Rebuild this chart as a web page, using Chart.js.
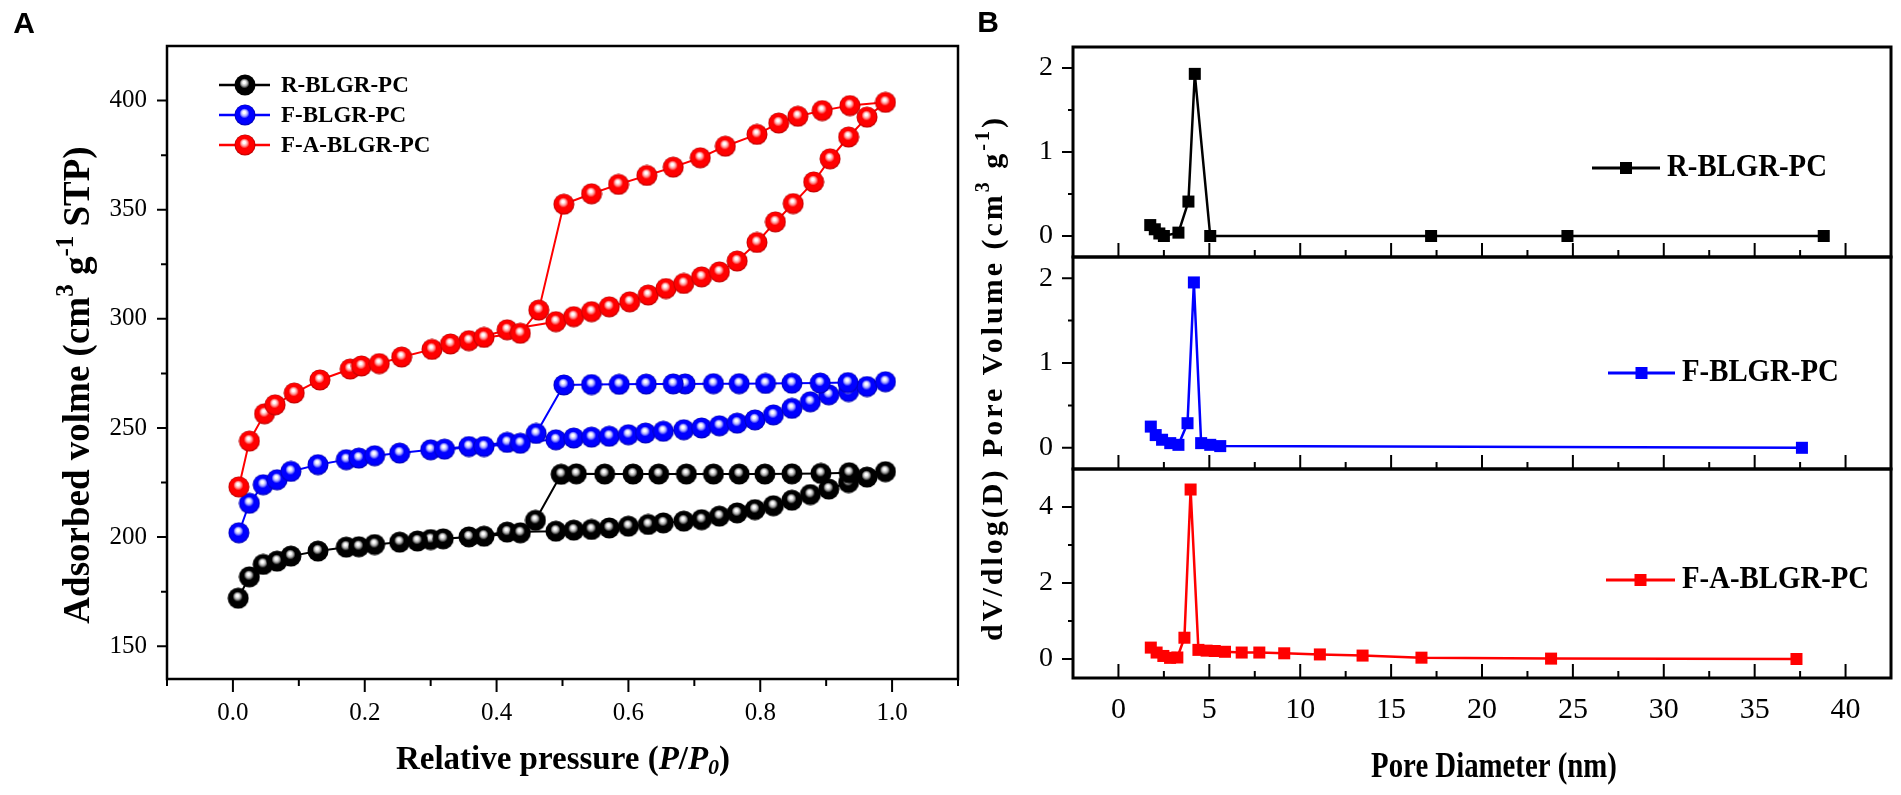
<!DOCTYPE html>
<html>
<head>
<meta charset="utf-8">
<script src="https://cdn.jsdelivr.net/npm/chart.js@4.4.1/dist/chart.umd.min.js"></script>
<style>
  html, body { margin: 0; padding: 0; background: #fff; }
  #wrap { position: relative; width: 1901px; height: 795px; }
  canvas { position: absolute; left: 0; top: 0; }
</style>
</head>
<body>
<div id="wrap">
  <canvas id="chartA" width="1901" height="795"></canvas>
  <canvas id="chartB1" width="1901" height="795"></canvas>
  <canvas id="chartB2" width="1901" height="795"></canvas>
  <canvas id="chartB3" width="1901" height="795"></canvas>
</div>
<script>
const seriesNames = ['R-BLGR-PC', 'F-BLGR-PC', 'F-A-BLGR-PC'];

// panel A: N2 isotherms (adsorption branch, then desorption branch)
const pressR = [0.008, 0.025, 0.046, 0.067, 0.088, 0.129, 0.172, 0.191, 0.215, 0.253, 0.30, 0.358, 0.416, 0.49, 0.517, 0.544, 0.571, 0.60, 0.63, 0.653, 0.684, 0.711, 0.738, 0.765, 0.792, 0.82, 0.848, 0.876, 0.904, 0.934, 0.962, 0.99,
  0.935, 0.892, 0.848, 0.807, 0.768, 0.729, 0.688, 0.646, 0.607, 0.564, 0.521, 0.498, 0.459, 0.436, 0.381, 0.319, 0.28];
const volR = [172, 181.8, 187.5, 189, 191.3, 193.6, 195.4, 195.6, 196.6, 197.7, 198.9, 200.1, 202.3, 202.7, 203.2, 203.5, 204.2, 205, 205.8, 206.5, 207.3, 208, 209.6, 211.1, 212.6, 214.4, 216.9, 219.5, 222, 225, 227.5, 230,
  229.5, 229.2, 229, 228.9, 228.9, 228.9, 228.9, 228.9, 228.9, 228.9, 229, 228.8, 207.7, 202, 200.4, 199.2, 198.2];

const pressF = [0.009, 0.025, 0.046, 0.067, 0.088, 0.129, 0.172, 0.191, 0.215, 0.253, 0.30, 0.358, 0.416, 0.49, 0.517, 0.544, 0.571, 0.60, 0.626, 0.653, 0.684, 0.711, 0.738, 0.765, 0.792, 0.82, 0.848, 0.876, 0.904, 0.934, 0.962, 0.99,
  0.933, 0.891, 0.848, 0.808, 0.768, 0.729, 0.686, 0.668, 0.627, 0.586, 0.544, 0.502, 0.46, 0.436, 0.381, 0.321];
const volF = [202, 215.5, 224, 226.3, 230.1, 233.2, 235.5, 236.2, 237.3, 238.5, 240, 241.5, 243.4, 244.6, 245.4, 245.8, 246.2, 246.9, 247.7, 248.5, 249.2, 250, 251, 252.2, 253.7, 256, 259, 262, 265.2, 266.7, 269, 271.2,
  270.8, 270.6, 270.5, 270.4, 270.3, 270.3, 270.2, 270.2, 270.1, 270, 269.9, 269.7, 247.5, 243, 241.5, 240.3];

const pressFA = [0.009, 0.025, 0.048, 0.064, 0.093, 0.132, 0.178, 0.195, 0.222, 0.256, 0.302, 0.358, 0.416, 0.49, 0.517, 0.544, 0.571, 0.602, 0.63, 0.657, 0.684, 0.711, 0.738, 0.765, 0.795, 0.823, 0.85, 0.881, 0.906, 0.934, 0.962, 0.99,
  0.936, 0.894, 0.857, 0.828, 0.795, 0.747, 0.709, 0.668, 0.628, 0.585, 0.544, 0.502, 0.464, 0.436, 0.381, 0.33];
const volFA = [223, 244, 256.5, 260.6, 266, 272, 277, 278.4, 279.5, 282.5, 286, 290, 295, 298.7, 301, 303.3, 305.5, 307.8, 310.9, 313.9, 316.2, 319.2, 321.5, 326.5, 335, 344.4, 352.8, 362.7, 373.3, 383.3, 392.4, 399.2,
  397.7, 395.4, 392.8, 389.7, 384.5, 379.1, 373.8, 369.5, 365.7, 361.6, 357.3, 352.5, 304, 293.4, 291.5, 288.5];

// panel B: pore size distributions
const diamR = [1.75, 2.0, 2.25, 2.5, 3.3, 3.85, 4.2, 5.05, 17.2, 24.7, 38.8];
const poreR = [0.13, 0.08, 0.03, 0.0, 0.04, 0.41, 1.93, 0.0, 0.0, 0.0, 0.0];
const diamF = [1.78, 2.05, 2.4, 2.85, 3.3, 3.8, 4.15, 4.55, 5.05, 5.6, 37.6];
const poreF = [0.25, 0.15, 0.095, 0.055, 0.035, 0.29, 1.95, 0.055, 0.035, 0.02, 0.0];
const diamFA = [1.78, 2.1, 2.47, 2.84, 3.24, 3.63, 3.97, 4.4, 4.85, 5.3, 5.86, 6.78, 7.75, 9.12, 11.08, 13.43, 16.67, 23.8, 37.3];
const poreFA = [0.3, 0.17, 0.08, 0.03, 0.04, 0.56, 4.46, 0.24, 0.22, 0.21, 0.19, 0.17, 0.17, 0.15, 0.12, 0.09, 0.035, 0.01, 0.0];

// ticks
const aXTicks = [0, 0.2, 0.4, 0.6, 0.8, 1.0];
const aXMinor = [-0.1, 0.1, 0.3, 0.5, 0.7, 0.9, 1.1];
const aYTicks = [150, 200, 250, 300, 350, 400];
const aYMinor = [175, 225, 275, 325, 375];
const bXTicks = [0, 5, 10, 15, 20, 25, 30, 35, 40];
const bXMinor = [2.5, 7.5, 12.5, 17.5, 22.5, 27.5, 32.5, 37.5];
const bYTicks = [0, 1, 2];
const bYMinor = [0.5, 1.5];
const b3YTicks = [0, 2, 4];
const b3YMinor = [1, 3];

const SERIF = '"Liberation Serif", "Times New Roman", serif';
const SANS = '"Liberation Sans", Arial, sans-serif';
Chart.defaults.font.family = SERIF;
Chart.defaults.color = '#000';

function pts(xs, ys) {
  return xs.map((x, i) => ({ x: x, y: ys[i] }));
}

// shaded ball used as marker in panel A
function makeBall(base, ring, edge) {
  const c = document.createElement('canvas');
  c.width = c.height = 22;
  const g = c.getContext('2d');
  const grad = g.createRadialGradient(10, 8, 0, 11, 11, 10.5);
  grad.addColorStop(0, '#ffffff');
  grad.addColorStop(0.12, '#ffffff');
  grad.addColorStop(0.3, ring);
  grad.addColorStop(0.48, base);
  grad.addColorStop(0.85, base);
  grad.addColorStop(1, edge);
  g.fillStyle = grad;
  g.beginPath();
  g.arc(11, 11, 10.5, 0, Math.PI * 2);
  g.fill();
  return c;
}

// text made of runs (for superscripts / italics)
function drawRuns(ctx, runs, x, y, o) {
  o = o || {};
  ctx.save();
  ctx.translate(x, y);
  if (o.angle) ctx.rotate(o.angle);
  ctx.scale(o.sx || 1, 1);
  ctx.fillStyle = '#000';
  ctx.textBaseline = 'middle';
  ctx.textAlign = 'left';
  if ('letterSpacing' in ctx) ctx.letterSpacing = (o.spacing || 0) + 'px';
  let w = 0;
  runs.forEach(r => { ctx.font = r.f; w += ctx.measureText(r.t).width; });
  let cx = o.align === 'left' ? 0 : -w / 2;
  runs.forEach(r => {
    ctx.font = r.f;
    ctx.fillText(r.t, cx, r.dy || 0);
    cx += ctx.measureText(r.t).width;
  });
  ctx.restore();
}

function linearAxis(min, max, ticks, fit, tickOpts) {
  return {
    type: 'linear', min: min, max: max,
    afterBuildTicks: s => { s.ticks = ticks.map(v => ({ value: v })); },
    afterFit: fit,
    grid: { display: false, drawTicks: false },
    border: { display: false },
    ticks: Object.assign({ color: '#000', autoSkip: false, maxRotation: 0 }, tickOpts)
  };
}

// frame box + major/minor tick marks
function frameTicks(o) {
  return {
    id: 'frameTicks',
    afterDraw(chart) {
      const ctx = chart.ctx, a = chart.chartArea;
      const sx = chart.scales.x, sy = chart.scales.y;
      ctx.save();
      ctx.strokeStyle = '#000';
      ctx.lineWidth = o.frame;
      ctx.strokeRect(a.left, a.top, a.right - a.left, a.bottom - a.top);
      ctx.lineWidth = 2;
      ctx.beginPath();
      const xd = o.xIn ? -1 : 1;
      [[o.xMajor, o.xLen[0]], [o.xMinor, o.xLen[1]]].forEach(([vals, len]) => vals.forEach(v => {
        const p = sx.getPixelForValue(v);
        ctx.moveTo(p, a.bottom);
        ctx.lineTo(p, a.bottom + xd * len);
      }));
      [[o.yMajor, o.yLen[0]], [o.yMinor, o.yLen[1]]].forEach(([vals, len]) => vals.forEach(v => {
        const p = sy.getPixelForValue(v);
        ctx.moveTo(a.left, p);
        ctx.lineTo(a.left - len, p);
      }));
      ctx.stroke();
      ctx.restore();
    }
  };
}

const balls = [
  makeBall('#000000', '#a8a8a8', '#000000'),
  makeBall('#0000ff', '#a8a8ff', '#0000a8'),
  makeBall('#ff0000', '#ff9c9c', '#b00000')
];
const colors = ['#000000', '#0000ff', '#ff0000'];

function ballSet(i, data) {
  return {
    label: seriesNames[i], data: data, showLine: true,
    borderColor: colors[i], borderWidth: 2,
    pointStyle: balls[i], pointRadius: 10, order: 3 - i, clip: false
  };
}

// ---- panel A ----
new Chart(document.getElementById('chartA'), {
  type: 'scatter',
  data: {
    datasets: [
      ballSet(0, pts(pressR, volR)),
      ballSet(1, pts(pressF, volF)),
      ballSet(2, pts(pressFA, volFA))
    ]
  },
  options: {
    responsive: false,
    animation: false,
    layout: { padding: { left: 0, top: 46, right: 943, bottom: 0 } },
    plugins: { legend: { display: false }, tooltip: { enabled: false } },
    scales: {
      x: linearAxis(-0.1, 1.1, aXTicks, s => { s.height = 116; },
        { font: { size: 25 }, padding: 19, callback: v => v.toFixed(1) }),
      y: linearAxis(135, 425, aYTicks, s => { s.width = 167; },
        { font: { size: 25 }, padding: 20 })
    }
  },
  plugins: [
    frameTicks({ frame: 2.5, xMajor: aXTicks, xMinor: aXMinor, xLen: [13, 7],
      yMajor: aYTicks, yMinor: aYMinor, yLen: [10, 6] }),
    {
      id: 'textA',
      afterDraw(chart) {
        const ctx = chart.ctx;
        // legend
        chart.data.datasets.forEach((ds, i) => {
          const y = 85 + i * 30;
          ctx.save();
          ctx.strokeStyle = ds.borderColor;
          ctx.lineWidth = 2.5;
          ctx.beginPath();
          ctx.moveTo(219, y);
          ctx.lineTo(270, y);
          ctx.stroke();
          ctx.drawImage(ds.pointStyle, 245 - 11, y - 11);
          ctx.restore();
          drawRuns(ctx, [{ t: ds.label, f: 'bold 23px ' + SERIF }], 281, y + 1, { align: 'left' });
        });
        drawRuns(ctx, [{ t: 'A', f: 'bold 30px ' + SANS }], 24, 25);
        drawRuns(ctx, [
          { t: 'Relative pressure (', f: 'bold 33px ' + SERIF },
          { t: 'P', f: 'italic bold 33px ' + SERIF },
          { t: '/', f: 'bold 33px ' + SERIF },
          { t: 'P', f: 'italic bold 33px ' + SERIF },
          { t: '0', f: 'italic bold 22px ' + SERIF, dy: 8 },
          { t: ')', f: 'bold 33px ' + SERIF }
        ], 563, 760);
        drawRuns(ctx, [
          { t: 'Adsorbed volme (cm', f: 'bold 37px ' + SERIF },
          { t: '3', f: 'bold 25px ' + SERIF, dy: -12 },
          { t: ' g', f: 'bold 37px ' + SERIF },
          { t: '-1', f: 'bold 25px ' + SERIF, dy: -12 },
          { t: ' STP)', f: 'bold 37px ' + SERIF }
        ], 79, 385, { angle: -Math.PI / 2 });
      }
    }
  ]
});

// ---- panel B ----
const bPanels = [
  { id: 'chartB1', top: 47, bottom: 257, min: -0.25, max: 2.25, yt: bYTicks, ym: bYMinor,
    dx: diamR, dy: poreR, legend: [1592, 1660, 1667, 168], labels: false },
  { id: 'chartB2', top: 257, bottom: 469, min: -0.25, max: 2.25, yt: bYTicks, ym: bYMinor,
    dx: diamF, dy: poreF, legend: [1608, 1675, 1682, 373], labels: false },
  { id: 'chartB3', top: 469, bottom: 678, min: -0.5, max: 5, yt: b3YTicks, ym: b3YMinor,
    dx: diamFA, dy: poreFA, legend: [1606, 1675, 1682, 580], labels: true }
];

bPanels.forEach((p, i) => {
  const xH = p.labels ? 795 - p.bottom : 0;
  new Chart(document.getElementById(p.id), {
    type: 'scatter',
    data: {
      datasets: [{
        label: seriesNames[i], data: pts(p.dx, p.dy), showLine: true,
        borderColor: colors[i], backgroundColor: colors[i], borderWidth: 2.5,
        pointStyle: 'rect', pointRadius: 8.5, pointBorderWidth: 0
      }]
    },
    options: {
      responsive: false,
      animation: false,
      layout: { padding: { left: 1013, top: p.top, right: 10, bottom: p.labels ? 0 : 795 - p.bottom } },
      plugins: { legend: { display: false }, tooltip: { enabled: false } },
      scales: {
        x: linearAxis(-2.5, 42.5, bXTicks, s => { s.height = xH; },
          p.labels ? { font: { size: 30 }, padding: 14 } : { display: false }),
        y: linearAxis(p.min, p.max, p.yt, s => { s.width = 60; },
          { font: { size: 28 }, padding: 20 })
      }
    },
    plugins: [
      frameTicks({ frame: 3, xIn: true, xMajor: bXTicks, xMinor: bXMinor, xLen: [14, 7],
        yMajor: p.yt, yMinor: p.ym, yLen: [11, 5] }),
      {
        id: 'textB' + i,
        afterDraw(chart) {
          const ctx = chart.ctx;
          const ds = chart.data.datasets[0];
          const [x0, x1, tx, y] = p.legend;
          ctx.save();
          ctx.strokeStyle = ds.borderColor;
          ctx.fillStyle = ds.borderColor;
          ctx.lineWidth = 3;
          ctx.beginPath();
          ctx.moveTo(x0, y);
          ctx.lineTo(x1, y);
          ctx.stroke();
          const cxs = (x0 + x1) / 2;
          ctx.fillRect(cxs - 6, y - 6, 12, 12);
          ctx.restore();
          drawRuns(ctx, [{ t: ds.label, f: 'bold 32px ' + SERIF }], tx, y, { align: 'left', sx: 0.9 });
          if (!p.labels) return;
          drawRuns(ctx, [{ t: 'B', f: 'bold 30px ' + SANS }], 988, 24);
          drawRuns(ctx, [{ t: 'Pore Diameter (nm)', f: 'bold 36px ' + SERIF }], 1494, 768, { sx: 0.8 });
          drawRuns(ctx, [
            { t: 'dV/dlog(D) Pore Volume (cm', f: 'bold 30px ' + SERIF },
            { t: '3', f: 'bold 20px ' + SERIF, dy: -10 },
            { t: ' g', f: 'bold 30px ' + SERIF },
            { t: '-1', f: 'bold 20px ' + SERIF, dy: -10 },
            { t: ')', f: 'bold 30px ' + SERIF }
          ], 994, 378, { angle: -Math.PI / 2, spacing: 3 });
        }
      }
    ]
  });
});
</script>
</body>
</html>
